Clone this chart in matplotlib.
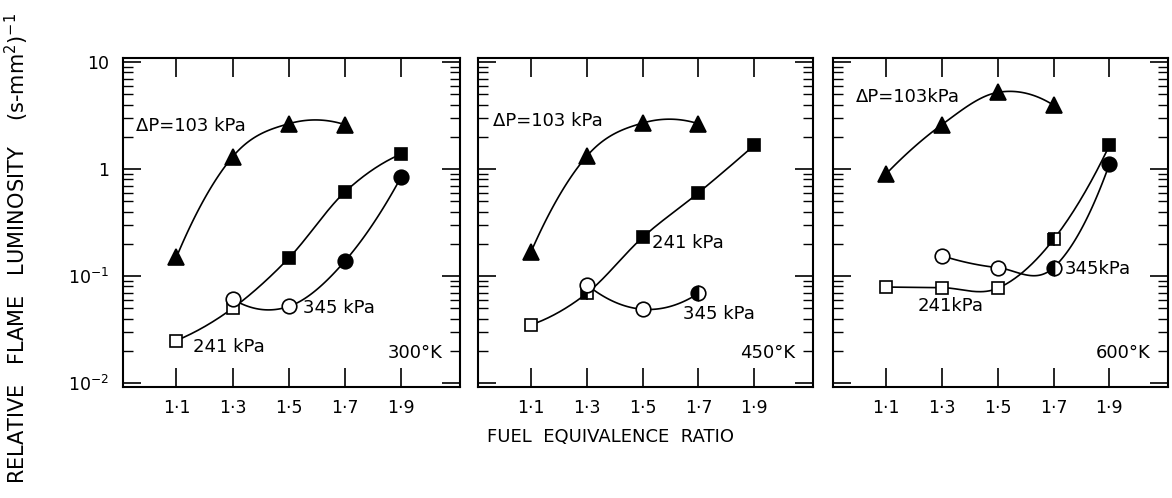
import numpy as np
import matplotlib
matplotlib.use("Agg")
import matplotlib.pyplot as plt
from matplotlib.ticker import LogLocator, FixedLocator, NullFormatter

plt.rcParams['font.family'] = 'DejaVu Sans'
plt.rcParams['mathtext.default'] = 'regular'

# fuel equivalence ratio
phi = [1.1, 1.3, 1.5, 1.7, 1.9]
phi_tick_labels = ['1·1', '1·3', '1·5', '1·7', '1·9']

# inlet temperatures (one panel each)
temps = ['300°K', '450°K', '600°K']

# dP = 103 kPa (triangles)
tri_x = [1.1, 1.3, 1.5, 1.7]
tri_300 = [0.15, 1.3, 2.65, 2.6]
tri_450 = [0.168, 1.32, 2.69, 2.65]
tri_600 = [0.9, 2.6, 5.2, 3.95]

# dP = 241 kPa (squares)
sq_x = [1.1, 1.3, 1.5, 1.7, 1.9]
sq_300 = [0.025, 0.05, 0.147, 0.61, 1.38]
sq_450 = [0.035, 0.069, 0.23, 0.6, 1.67]
sq_600 = [0.079, 0.078, 0.077, 0.22, 1.66]
sq_fill_300 = ['open', 'open', 'full', 'full', 'full']
sq_fill_450 = ['open', 'left', 'full', 'full', 'full']
sq_fill_600 = ['open', 'open', 'open', 'left', 'full']

# dP = 345 kPa (circles)
ci_x_300 = [1.3, 1.5, 1.7, 1.9]
ci_300 = [0.061, 0.052, 0.138, 0.84]
ci_fill_300 = ['open', 'open', 'full', 'full']
ci_x_450 = [1.3, 1.5, 1.7]
ci_450 = [0.083, 0.049, 0.069]
ci_fill_450 = ['open', 'open', 'left']
ci_x_600 = [1.3, 1.5, 1.7, 1.9]
ci_600 = [0.155, 0.12, 0.12, 1.11]
ci_fill_600 = ['open', 'open', 'left', 'full']


def smooth(x, y, n=40):
    # hermite curve through the points, done in log space
    x = np.asarray(x, float)
    ly = np.log10(y)
    sec = np.diff(ly) / np.diff(x)
    m = np.zeros_like(ly)
    if len(x) > 2:
        for i in range(1, len(x) - 1):
            m[i] = (ly[i + 1] - ly[i - 1]) / (x[i + 1] - x[i - 1])
        # parabolic ends
        m[0] = 2 * sec[0] - m[1]
        m[-1] = 2 * sec[-1] - m[-2]
    else:
        m[:] = sec[0]
    xs, ys = [], []
    for i in range(len(x) - 1):
        h = x[i + 1] - x[i]
        t = np.linspace(0, 1, n)
        h00 = 2 * t**3 - 3 * t**2 + 1
        h10 = t**3 - 2 * t**2 + t
        h01 = -2 * t**3 + 3 * t**2
        h11 = t**3 - t**2
        xs.append(x[i] + t * h)
        ys.append(h00 * ly[i] + h10 * h * m[i] + h01 * ly[i + 1] + h11 * h * m[i + 1])
    return np.concatenate(xs), 10 ** np.concatenate(ys)


def draw_series(ax, x, y, marker, size, fills):
    xs, ys = smooth(x, y)
    ax.plot(xs, ys, color='black', lw=1.2, zorder=2)
    for xi, yi, f in zip(x, y, fills):
        kw = dict(marker=marker, ms=size, mec='black', mew=1.2, ls='none', zorder=3)
        if f == 'open':
            ax.plot([xi], [yi], mfc='white', **kw)
        elif f == 'left':
            ax.plot([xi], [yi], fillstyle='left', mfc='black', mfcalt='white', **kw)
        else:
            ax.plot([xi], [yi], mfc='black', **kw)


fig = plt.figure(figsize=(11.72, 4.98), dpi=100)
lefts = [0.105, 0.4078, 0.7108]
widths = [0.2875, 0.2858, 0.2858]

panels = [
    (tri_300, sq_300, sq_fill_300, ci_x_300, ci_300, ci_fill_300),
    (tri_450, sq_450, sq_fill_450, ci_x_450, ci_450, ci_fill_450),
    (tri_600, sq_600, sq_fill_600, ci_x_600, ci_600, ci_fill_600),
]

# label positions (x, y) per panel: dP, 241, 345
label_pos = [
    [(0.957, 2.5), (1.16, 0.0218), (1.55, 0.050)],
    [(0.965, 2.81), (1.532, 0.203), (1.643, 0.044)],
    [(0.993, 4.68), (1.214, 0.052), (1.74, 0.116)],
]
label_txt = [
    ['ΔP=103 kPa', '241 kPa', '345 kPa'],
    ['ΔP=103 kPa', '241 kPa', '345 kPa'],
    ['ΔP=103kPa', '241kPa', '345kPa'],
]

for k in range(3):
    ax = fig.add_axes([lefts[k], 0.2229, widths[k], 0.6606])
    tri, sq, sqf, cix, ci, cif = panels[k]
    draw_series(ax, tri_x, tri, '^', 12, ['full'] * len(tri))
    draw_series(ax, sq_x, sq, 's', 8.5, sqf)
    draw_series(ax, cix, ci, 'o', 10.5, cif)

    ax.set_yscale('log')
    ax.set_xlim(0.91, 2.11)
    ax.set_ylim(0.0092, 10.9)

    ax.xaxis.set_major_locator(FixedLocator(phi))
    ax.set_xticklabels(phi_tick_labels, fontsize=12.5)
    ax.tick_params(axis='x', which='major', direction='in', length=14, width=1.2,
                   top=True, bottom=True, pad=9)
    ax.yaxis.set_major_locator(FixedLocator([0.01, 0.1, 1, 10]))
    ax.yaxis.set_minor_locator(LogLocator(base=10, subs=np.arange(2, 10)))
    ax.yaxis.set_minor_formatter(NullFormatter())
    ax.tick_params(axis='y', which='major', direction='in', length=13, width=1.2,
                   left=True, right=True)
    ax.tick_params(axis='y', which='minor', direction='in', length=7, width=1.0,
                   left=True, right=True)
    if k == 0:
        ax.set_yticklabels(['$10^{-2}$', '$10^{-1}$', '1', '10'], fontsize=12.5)
        ax.tick_params(axis='y', which='major', pad=10)
    else:
        ax.set_yticklabels([])
    for s in ax.spines.values():
        s.set_linewidth(1.5)

    for (tx, ty), t in zip(label_pos[k], label_txt[k]):
        ax.text(tx, ty, t, fontsize=13, ha='left', va='center')
    ax.text(0.947, 0.103, temps[k], transform=ax.transAxes, fontsize=13,
            ha='right', va='center')

fig.text(0.521, 0.122, 'FUEL  EQUIVALENCE  RATIO', fontsize=13, ha='center', va='center')
fig.text(0.014, 0.5, 'RELATIVE   FLAME   LUMINOSITY    (s-mm$^2$)$^{-1}$', fontsize=15,
         rotation=90, ha='center', va='center')

fig.savefig('out.png', dpi=100)
